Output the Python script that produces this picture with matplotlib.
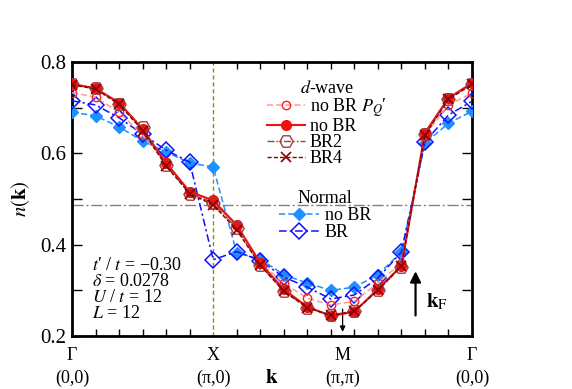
import numpy as np
import matplotlib
matplotlib.use('Agg')
import matplotlib.pyplot as plt

plt.rcParams['font.family'] = ['Liberation Serif', 'DejaVu Serif']
plt.rcParams['mathtext.fontset'] = 'stix'

# k-path index along Gamma -> X -> M -> Gamma (L = 12)
kidx = np.arange(18)

# d-wave
dw_pq = [0.733, 0.723, 0.690, 0.640, 0.580, 0.515, 0.490, 0.440, 0.362, 0.315,
         0.283, 0.268, 0.276, 0.316, 0.360, 0.640, 0.706, 0.732]
dw_nobr = [0.752, 0.742, 0.711, 0.653, 0.579, 0.516, 0.497, 0.443, 0.360, 0.302,
           0.264, 0.244, 0.253, 0.303, 0.353, 0.645, 0.721, 0.754]
dw_br2 = [0.752, 0.744, 0.708, 0.657, 0.574, 0.512, 0.492, 0.436, 0.355, 0.298,
          0.262, 0.246, 0.255, 0.300, 0.352, 0.642, 0.720, 0.752]
dw_br4 = [0.750, 0.741, 0.707, 0.650, 0.572, 0.512, 0.487, 0.432, 0.355, 0.298,
          0.262, 0.245, 0.254, 0.300, 0.354, 0.640, 0.718, 0.751]
# normal state
nm_nobr = [0.690, 0.682, 0.658, 0.627, 0.603, 0.579, 0.570, 0.382, 0.369, 0.334,
           0.316, 0.300, 0.307, 0.334, 0.384, 0.622, 0.666, 0.692]
nm_br = [0.715, 0.706, 0.678, 0.642, 0.607, 0.581, 0.367, 0.385, 0.365, 0.329,
         0.307, 0.281, 0.290, 0.327, 0.384, 0.625, 0.684, 0.714]

n_half = 0.4861   # (1 - delta) / 2
k_fermi = 14.6
xt_pos = [0, 6, 11.5, 17]
xt_lab = ['Γ\n(0,0)', 'X\n(π,0)', 'M\n(π,π)', 'Γ\n(0,0)']

fig = plt.figure(figsize=(5.72, 3.89), dpi=100)
ax = fig.add_axes([0.1259, 0.1362, 0.6993, 0.7044])

ax.axvline(6, color='#8a8a20', ls=(0, (3, 2)), lw=1.0, zorder=1)
ax.axhline(n_half, color='#808080', ls=(0, (8, 2, 1.5, 2)), lw=1.0, zorder=1)

l_nbr, = ax.plot(kidx, nm_nobr, ls=(0, (4, 2)), color='#1e90ff', lw=1.1,
                 marker='D', ms=6, mfc='#1e90ff', mec='#1e90ff', zorder=3)
l_br, = ax.plot(kidx, nm_br, ls=(0, (5, 2, 1.5, 2)), color='#1010ff', lw=1.1,
                marker='D', ms=8.5, mfc='none', mec='#1010ff', mew=1.1, zorder=3)
l_pq, = ax.plot(kidx, dw_pq, ls=(0, (4, 2)), color='#ff9a9a', lw=1.1,
                marker='o', ms=6, mfc='none', mec='#ff2020', mew=1.0, zorder=4)
l_nobr, = ax.plot(kidx, dw_nobr, ls='-', color='#ee1111', lw=1.5,
                  marker='o', ms=7, mfc='#ee1111', mec='#ee1111', zorder=5)
l_br2, = ax.plot(kidx, dw_br2, ls=(0, (5, 1.5, 1.2, 1.5, 1.2, 1.5)), color='#a03c3c',
                 lw=1.0, marker='H', ms=9.5, mfc='none', mec='#a03c3c', mew=1.0, zorder=6)
l_br4, = ax.plot(kidx, dw_br4, ls=(0, (3, 1.5)), color='#8b0000', lw=1.0,
                 marker='x', ms=7, mec='#8b0000', mew=1.2, zorder=6)

# arrows
ax.annotate('', xy=(11.5, 0.203), xytext=(11.5, 0.265),
            arrowprops=dict(arrowstyle='-|>', color='k', lw=0.9, mutation_scale=8))
ax.annotate('', xy=(k_fermi, 0.348), xytext=(k_fermi, 0.239),
            arrowprops=dict(arrowstyle='-|>', color='k', lw=1.6, mutation_scale=16))
ax.text(k_fermi + 0.45, 0.275, r'$\mathbf{k}_{\rm F}$', fontsize=15, ha='left', va='center')

ax.text(0.85, 0.373, '$t$′ / $t$ = −0.30\n$\\delta$ = 0.0278\n$U$ / $t$ = 12\n$L$ = 12',
        fontsize=13, ha='left', va='top', linespacing=0.92)

leg1 = ax.legend([l_pq, l_nobr, l_br2, l_br4],
                 ['no BR $P_Q$′', 'no BR', 'BR2', 'BR4'],
                 title=r'$d$-wave', loc='upper left', bbox_to_anchor=(0.455, 0.98),
                 frameon=False, fontsize=13, title_fontsize=13, handlelength=2.1,
                 handletextpad=0.3, labelspacing=-0.05, borderpad=0.2)
ax.add_artist(leg1)
ax.legend([l_nbr, l_br], ['no BR', 'BR'], title='Normal', loc='upper left',
          bbox_to_anchor=(0.487, 0.578), frameon=False, fontsize=13, title_fontsize=13,
          handlelength=2.2, handletextpad=0.3, labelspacing=0.0, borderpad=0.2)

ax.set_xlim(0, 17)
ax.set_ylim(0.2, 0.8)
ax.set_xticks(xt_pos)
ax.set_xticklabels(xt_lab, fontsize=13, linespacing=1.4)
ax.set_xticks(kidx, minor=True)
ax.set_yticks([0.2, 0.4, 0.6, 0.8])
ax.set_yticklabels(['0.2', '0.4', '0.6', '0.8'], fontsize=15)
ax.set_yticks([0.3, 0.5, 0.7], minor=True)
ax.tick_params(which='both', direction='in', top=True, right=True, width=1.0)
ax.tick_params(axis='x', which='major', length=0, pad=8)
ax.tick_params(axis='x', which='minor', length=5)
ax.tick_params(axis='y', which='both', length=7, pad=4)
for s in ax.spines.values():
    s.set_linewidth(2.0)

ax.set_xlabel(r'$\mathbf{k}$', fontsize=15, labelpad=-13)
ax.set_ylabel(r'$n(\mathbf{k})$', fontsize=15, labelpad=6)

fig.savefig('out.png', dpi=100)
